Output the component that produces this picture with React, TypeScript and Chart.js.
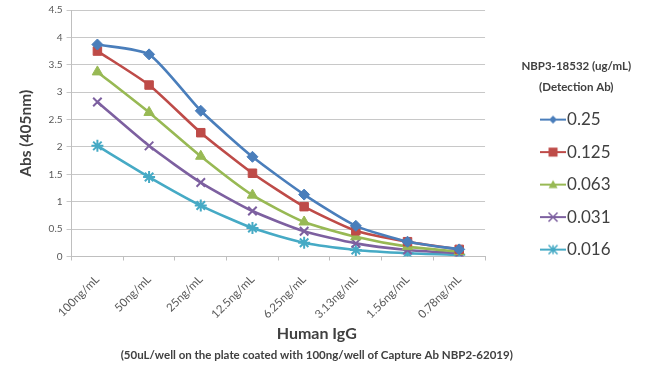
import React, { useEffect, useRef } from "react";
import { Chart, registerables } from "chart.js";

Chart.register(...registerables);

const categories = ["100ng/mL", "50ng/mL", "25ng/mL", "12.5ng/mL", "6.25ng/mL", "3.13ng/mL", "1.56ng/mL", "0.78ng/mL"];
const seriesLabels = ["0.25", "0.125", "0.063", "0.031", "0.016"];
const s025 = [3.87, 3.69, 2.66, 1.82, 1.13, 0.56, 0.27, 0.13];
const s0125 = [3.75, 3.13, 2.26, 1.52, 0.91, 0.47, 0.27, 0.13];
const s0063 = [3.37, 2.63, 1.83, 1.12, 0.63, 0.36, 0.18, 0.09];
const s0031 = [2.82, 2.02, 1.35, 0.83, 0.46, 0.24, 0.12, 0.06];
const s0016 = [2.02, 1.45, 0.93, 0.52, 0.25, 0.12, 0.06, 0.03];
const yTicks = [0, 0.5, 1, 1.5, 2, 2.5, 3, 3.5, 4, 4.5];

const xTitle = "Human IgG";
const subTitle = "(50uL/well on the plate coated with 100ng/well of Capture Ab NBP2-62019)";
const yTitle = "Abs (405nm)";
const legendTitle = ["NBP3-18532 (ug/mL)", "(Detection Ab)"];

const colors = ["#4A7EBB", "#BE4B48", "#98B954", "#7D60A0", "#46AAC5"];
const styles = ["rectRot", "rect", "triangle", "crossRot", "star"];
const radii = [5.5, 6, 6, 6, 6];
const FONT = "Lato, 'Open Sans', sans-serif";

function drawMarker(ctx: CanvasRenderingContext2D, style: string, x: number, y: number, r: number, color: string) {
  ctx.save();
  ctx.fillStyle = color;
  ctx.strokeStyle = color;
  ctx.lineWidth = 1.5;
  ctx.beginPath();
  if (style === "rectRot") {
    ctx.moveTo(x, y - r); ctx.lineTo(x + r, y); ctx.lineTo(x, y + r); ctx.lineTo(x - r, y); ctx.closePath(); ctx.fill();
  } else if (style === "rect") {
    ctx.rect(x - r, y - r, 2 * r, 2 * r); ctx.fill();
  } else if (style === "triangle") {
    ctx.moveTo(x, y - r); ctx.lineTo(x + r, y + r * 0.8); ctx.lineTo(x - r, y + r * 0.8); ctx.closePath(); ctx.fill();
  } else if (style === "crossRot") {
    ctx.moveTo(x - r, y - r); ctx.lineTo(x + r, y + r); ctx.moveTo(x + r, y - r); ctx.lineTo(x - r, y + r); ctx.stroke();
  } else {
    ctx.moveTo(x - r, y - r); ctx.lineTo(x + r, y + r); ctx.moveTo(x + r, y - r); ctx.lineTo(x - r, y + r);
    ctx.moveTo(x, y - r); ctx.lineTo(x, y + r); ctx.stroke();
  }
  ctx.restore();
}

function makeIcon(color: string, style: string, r: number) {
  const c = document.createElement("canvas");
  c.width = 26;
  c.height = 14;
  const ctx = c.getContext("2d")!;
  ctx.strokeStyle = color;
  ctx.lineWidth = 2;
  ctx.beginPath();
  ctx.moveTo(0, 7);
  ctx.lineTo(26, 7);
  ctx.stroke();
  drawMarker(ctx, style, 13, 7, Math.max(3, r - 1.5), color);
  return c;
}

export default function App() {
  const ref = useRef<HTMLCanvasElement>(null);
  useEffect(() => {
    document.body.style.margin = "0";
    const icons = colors.map((c, i) => makeIcon(c, styles[i], radii[i]));
    const series = [s025, s0125, s0063, s0031, s0016];
    const chart = new Chart(ref.current!, {
      type: "line",
      data: {
        labels: categories,
        datasets: series.map((d, i) => ({
          label: seriesLabels[i],
          data: d,
          borderColor: colors[i],
          backgroundColor: colors[i],
          borderWidth: 2.6,
          tension: 0.2,
          pointStyle: styles[i] as any,
          pointRadius: radii[i],
          pointBorderWidth: i >= 3 ? 2 : 1,
          pointBackgroundColor: colors[i],
          pointBorderColor: colors[i],
          yAxisID: "y",
        })),
      },
      options: {
        animation: false,
        responsive: false,
        maintainAspectRatio: false,
        layout: { padding: { top: 4, right: 29.5, left: 13, bottom: 0 } },
        scales: {
          x: {
            offset: true,
            grid: { display: true, drawOnChartArea: false, offset: true, tickLength: 4, color: "#BFBFBF" },
            border: { display: true, color: "#BFBFBF" },
            ticks: { minRotation: 45, maxRotation: 45, color: "#595959", font: { family: FONT, size: 11.5 }, padding: 12 },
            afterFit: (s: any) => { s.height = 68; },
          },
          y: {
            min: 0,
            max: 4.5,
            afterBuildTicks: (axis: any) => { axis.ticks = yTicks.map((v) => ({ value: v })); },
            grid: { color: "#C8C8C8", tickLength: 5, lineWidth: 1 },
            border: { display: true, color: "#BFBFBF" },
            ticks: { color: "#595959", font: { family: FONT, size: 10 }, padding: 4, callback: (v: any) => String(v) },
            title: { display: true, text: yTitle, color: "#404040", font: { family: FONT, size: 15.5, weight: "bold" }, padding: { top: 4, bottom: 9 } },
          },
          gap: {
            type: "linear",
            position: "right",
            display: true,
            grid: { display: false },
            border: { display: false },
            ticks: { display: false },
            afterFit: (s: any) => { s.width = 47; },
          } as any,
        },
        plugins: {
          legend: {
            position: "right",
            align: "start",
            fullSize: true,
            title: {
              display: true,
              text: legendTitle as any,
              color: "#404040",
              font: { family: FONT, size: 11.5, weight: "bold", lineHeight: 1.75 },
              padding: { top: 57, bottom: 14.5 },
            },
            labels: {
              usePointStyle: true,
              pointStyleWidth: 11,
              padding: 15.5,
              color: "#404040",
              font: { family: FONT, size: 17 },
              generateLabels: (ch: any) =>
                ch.data.datasets.map((ds: any, i: number) => ({
                  text: ds.label,
                  pointStyle: icons[i],
                  fillStyle: colors[i],
                  strokeStyle: colors[i],
                  lineWidth: 0,
                  fontColor: "#404040",
                  datasetIndex: i,
                  hidden: false,
                })),
            },
          },
          title: {
            display: true,
            position: "bottom",
            text: xTitle,
            weight: 100,
            color: "#404040",
            font: { family: FONT, size: 16, weight: "bold" },
            padding: { top: 0, bottom: 2.5 },
          } as any,
          subtitle: {
            display: true,
            position: "bottom",
            text: subTitle,
            weight: 200,
            color: "#404040",
            font: { family: FONT, size: 11.5, weight: "bold" },
            padding: { top: 2, bottom: 13 },
          } as any,
          tooltip: { enabled: false },
        },
      },
    });
    // let the legend title extend beyond the legend box instead of being clipped
    const lg: any = chart.legend;
    if (lg && typeof lg._draw === "function") {
      lg.draw = function () {
        if (this.options.display) this._draw();
      };
      chart.update("none");
    }
    return () => chart.destroy();
  }, []);
  return (
    <div style={{ width: 650, height: 375, background: "#fff" }}>
      <canvas ref={ref} width={650} height={375} style={{ display: "block" }} />
    </div>
  );
}
